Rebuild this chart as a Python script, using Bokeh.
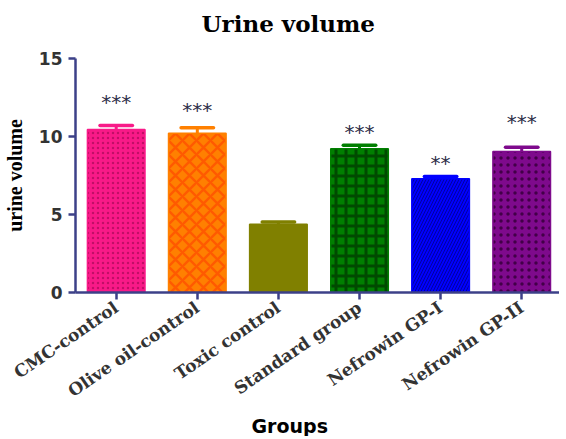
import numpy as np
from bokeh.plotting import figure
from bokeh.models import ColumnDataSource, FixedTicker, Range1d, Title
from bokeh.core.properties import value
from bokeh.embed import file_html
from bokeh.resources import INLINE

# ---- data ----
groups = ["CMC-control", "Olive oil-control", "Toxic control",
          "Standard group", "Nefrowin GP-I", "Nefrowin GP-II"]
means = [10.45, 10.21, 4.38, 9.21, 7.29, 9.04]
sems = [0.26, 0.35, 0.14, 0.23, 0.15, 0.27]
stars = ["***", "***", "", "***", "**", "***"]
star_y = [12.24, 11.72, 0.0, 10.28, 8.29, 10.92]
y_ticks = [0, 5, 10, 15]

# ---- styles ----
fills = ["#F81A88", "#FF8000", "#808000", "#007F00", "#0000FF", "#7E0A8C"]
hatch_colors = ["#C20E66", "#FF5A00", "#808000", "#004A00", "#0000A0", "#420048"]
hatch_patterns = ["dot", "diagonal_cross", " ", "cross", "right_diagonal_line", "dot"]
hatch_scales = [5, 14, 12, 10, 6, 7]
hatch_weights = [2.5, 2.5, 1, 3, 1, 3.5]
axis_color = "#3C4088"

xs = list(range(len(groups)))
tops = [m + s for m, s in zip(means, sems)]
cap_half = 0.2

src = ColumnDataSource(dict(
    x=xs, top=means, fill=fills, hc=hatch_colors, hp=hatch_patterns,
    hs=hatch_scales, hw=hatch_weights,
    err=tops, x0=[x - cap_half for x in xs], x1=[x + cap_half for x in xs],
    stars=stars, sy=star_y,
))

p = figure(frame_width=484, frame_height=234,
           x_range=Range1d(-0.502, 5.466), y_range=Range1d(0, 15),
           output_backend="svg", toolbar_location=None,
           min_border_left=72, min_border_right=0,
           min_border_top=58, min_border_bottom=140)
p.title = None

p.vbar(x="x", top="top", bottom=0, width=0.71, source=src,
       fill_color="fill", line_color="fill", line_width=1.5,
       hatch_pattern="hp", hatch_color="hc", hatch_scale="hs",
       hatch_weight="hw")

# error bars (upper only)
p.segment(x0="x", y0="top", x1="x", y1="err", source=src,
          line_color="fill", line_width=3)
p.segment(x0="x0", y0="err", x1="x1", y1="err", source=src,
          line_color="fill", line_width=3.5, line_cap="round")

# significance stars
p.text(x="x", y="sy", text="stars", source=src,
       text_font=value("DejaVu Sans"), text_font_size="20px",
       text_color="#2E2E48", text_align="center",
       text_baseline="alphabetic", y_offset=0)

# spacer between frame and title, then the title
p.add_layout(Title(text=" ", text_font_size="1px", standoff=19), "above")
p.add_layout(Title(text="Urine volume", text_font="DejaVu Serif",
                   text_font_size="23px", text_font_style="bold",
                   text_color="#000000", align="left", offset=126,
                   standoff=0), "above")

# x-axis title as a Title below
p.add_layout(Title(text="Groups", text_font="DejaVu Sans",
                   text_font_size="19px", text_font_style="bold",
                   text_color="#000000", align="left", offset=176,
                   standoff=0), "below")

# axes
for ax in (p.xaxis[0], p.yaxis[0]):
    ax.axis_line_color = axis_color
    ax.axis_line_width = 2.5
    ax.major_tick_line_color = axis_color
    ax.major_tick_line_width = 2.5
    ax.major_tick_out = 7
    ax.major_tick_in = 0
    ax.minor_tick_line_color = None

p.yaxis.ticker = FixedTicker(ticks=y_ticks)
p.yaxis.major_label_text_font = "DejaVu Sans"
p.yaxis.major_label_text_font_style = "bold"
p.yaxis.major_label_text_font_size = "17px"
p.yaxis.major_label_text_color = "#333333"
p.yaxis.major_label_standoff = 6
p.yaxis.axis_label = "urine volume"
p.yaxis.axis_label_text_font = "Liberation Serif"
p.yaxis.axis_label_text_font_style = "bold"
p.yaxis.axis_label_text_font_size = "20px"
p.yaxis.axis_label_text_color = "#000000"
p.yaxis.axis_label_standoff = 10

p.xaxis.ticker = FixedTicker(ticks=xs)
p.xaxis.major_label_overrides = {i: g for i, g in zip(xs, groups)}
p.xaxis.major_label_orientation = 0.6
p.xaxis.major_label_text_font = "DejaVu Serif"
p.xaxis.major_label_text_font_style = "bold"
p.xaxis.major_label_text_font_size = "17px"
p.xaxis.major_label_text_color = "#333333"
p.xaxis.major_label_standoff = 6

p.grid.visible = False
p.outline_line_color = None
p.background_fill_color = "white"
p.border_fill_color = "white"

open("out.html", "w").write(file_html(p, INLINE))
